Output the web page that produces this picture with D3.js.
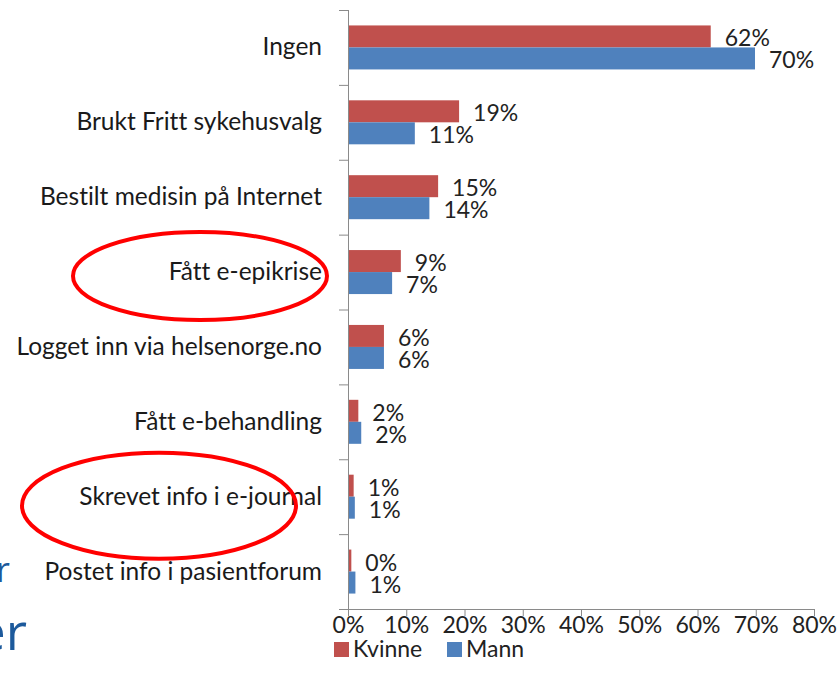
<!DOCTYPE html>
<html>
<head>
<meta charset="utf-8">
<script src="https://cdnjs.cloudflare.com/ajax/libs/d3/7.8.5/d3.min.js"></script>
<style>
  body { margin: 0; background: #fff; }
  svg { display: block; font-family: Lato, "Open Sans", sans-serif; font-variant-ligatures: none; }
</style>
</head>
<body>
<svg width="838" height="682"></svg>
<script>
// categories top to bottom
let categories = ["Ingen", "Brukt Fritt sykehusvalg", "Bestilt medisin på Internet", "Fått e-epikrise",
  "Logget inn via helsenorge.no", "Fått e-behandling", "Skrevet info i e-journal", "Postet info i pasientforum"];

// share of respondents
let kvinne = [0.621, 0.189, 0.153, 0.089, 0.06, 0.016, 0.008, 0.004];
let mann = [0.697, 0.113, 0.138, 0.074, 0.06, 0.021, 0.01, 0.011];

let seriesNames = ["Kvinne", "Mann"];
let seriesColors = ["#C0504D", "#4F81BD"];
let xTicks = [0, 0.1, 0.2, 0.3, 0.4, 0.5, 0.6, 0.7, 0.8];

// circled categories
let circled = ["Fått e-epikrise", "Skrevet info i e-journal"];

let svg = d3.select("svg");

let margin = {top: 10, left: 348, right: 24, bottom: 73};
let width = 838 - margin.left - margin.right;
let height = 682 - margin.top - margin.bottom;

let x = d3.scaleLinear().domain([0, 0.8]).range([margin.left, margin.left + width]);
let y = d3.scaleBand().domain(categories).range([margin.top, margin.top + height]);
let inner = d3.scaleBand().domain(seriesNames).range([0, 44]);
let barOff = (y.bandwidth() - 44) / 2;

let fmt = d3.format(".0%");

// gray axis lines
let axisColor = "#8a8a8a";

// x axis
let xAxis = svg.append("g")
  .attr("transform", "translate(0," + (margin.top + height) + ")")
  .call(d3.axisBottom(x).tickValues(xTicks).tickFormat(fmt).tickSize(7).tickSizeOuter(0).tickPadding(1));
xAxis.select(".domain").attr("stroke", axisColor).attr("d", "M" + (margin.left - 9) + ",0.5H" + x(0.8));
xAxis.selectAll(".tick line").attr("stroke", axisColor);
xAxis.selectAll(".tick text")
  .attr("font-family", "Lato")
  .attr("font-size", 23)
  .attr("fill", "#222");

// y axis with ticks between categories
let yBounds = d3.range(categories.length + 1).map(i => margin.top + i * y.step());
svg.append("line")
  .attr("x1", margin.left + 0.5).attr("x2", margin.left + 0.5)
  .attr("y1", margin.top).attr("y2", margin.top + height)
  .attr("stroke", axisColor);
svg.selectAll(".ytick")
  .data(yBounds)
  .join("line")
  .attr("class", "ytick")
  .attr("x1", margin.left - 9).attr("x2", margin.left)
  .attr("y1", d => d + 0.5).attr("y2", d => d + 0.5)
  .attr("stroke", axisColor);

// category labels
svg.selectAll(".cat")
  .data(categories)
  .join("text")
  .attr("class", "cat")
  .attr("x", margin.left - 26)
  .attr("y", d => y(d) + y.bandwidth() / 2 + 8)
  .attr("text-anchor", "end")
  .attr("font-size", 24.5)
  .attr("fill", "#1a1a1a")
  .text(d => d);

// bars
let series = [kvinne, mann];
series.forEach(function (vals, s) {
  let name = seriesNames[s];
  let g = svg.append("g");
  g.selectAll("rect")
    .data(vals)
    .join("rect")
    .attr("x", x(0) + 1)
    .attr("y", (d, i) => y(categories[i]) + barOff + inner(name))
    .attr("width", d => x(d) - x(0))
    .attr("height", inner.bandwidth())
    .attr("fill", seriesColors[s]);

  g.selectAll("text")
    .data(vals)
    .join("text")
    .attr("x", d => x(d) + 15)
    .attr("y", (d, i) => y(categories[i]) + barOff + inner(name) + inner.bandwidth() - 1)
    .attr("font-size", 23)
    .attr("fill", "#222")
    .text(d => fmt(d));
});

// legend
let legend = svg.append("g").attr("transform", "translate(334,657)");
let lx = [0, 113];
seriesNames.forEach(function (name, i) {
  legend.append("rect")
    .attr("x", lx[i]).attr("y", -15)
    .attr("width", 15).attr("height", 15)
    .attr("fill", seriesColors[i]);
  legend.append("text")
    .attr("x", lx[i] + 19).attr("y", 0)
    .attr("font-size", 23)
    .attr("fill", "#222")
    .text(name);
});

// red hand drawn ellipses around two categories: cx, dy from band centre, rx, ry
let ellipseSize = {"Fått e-epikrise": [200, 4, 127, 44], "Skrevet info i e-journal": [159, 9, 137, 53]};
svg.selectAll(".ring")
  .data(circled)
  .join("ellipse")
  .attr("class", "ring")
  .attr("cx", d => ellipseSize[d][0])
  .attr("cy", d => y(d) + y.bandwidth() / 2 + ellipseSize[d][1])
  .attr("rx", d => ellipseSize[d][2])
  .attr("ry", d => ellipseSize[d][3])
  .attr("fill", "none")
  .attr("stroke", "#ff0000")
  .attr("stroke-width", 4);

// cut off slide text at the left edge
svg.append("text")
  .attr("x", 10).attr("y", 582)
  .attr("text-anchor", "end")
  .attr("font-family", "Open Sans")
  .attr("font-size", 34)
  .attr("fill", "#1d5a9c")
  .text("r");
svg.append("text")
  .attr("x", 27).attr("y", 650)
  .attr("text-anchor", "end")
  .attr("font-family", "Open Sans")
  .attr("font-size", 52)
  .attr("fill", "#1d5a9c")
  .text("er");
</script>
</body>
</html>
